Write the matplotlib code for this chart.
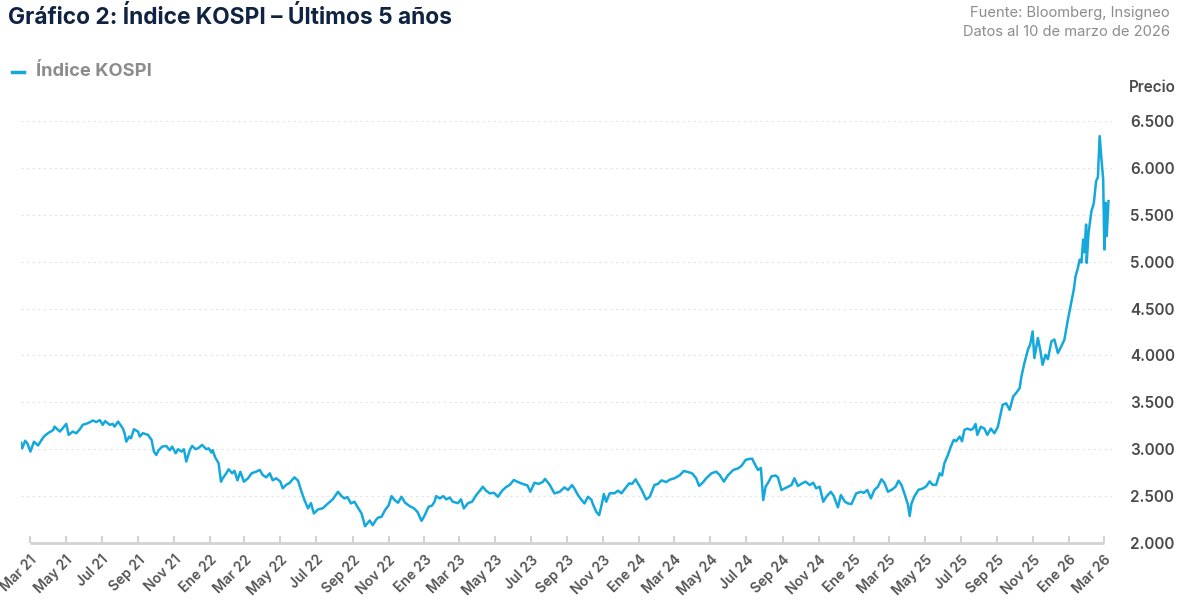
import pandas as pd
import matplotlib.pyplot as plt
from matplotlib.lines import Line2D
from matplotlib.ticker import FuncFormatter

plt.rcParams['font.family'] = ['Inter', 'DejaVu Sans']

# Serie (fecha, nivel del indice)
fechas = [
    '2021-02-14', '2021-02-16', '2021-02-21', '2021-02-25', '2021-03-02', '2021-03-08', '2021-03-15', '2021-03-21',
    '2021-03-26', '2021-04-01', '2021-04-10', '2021-04-12', '2021-04-21', '2021-04-26', '2021-05-02', '2021-05-06',
    '2021-05-13', '2021-05-19', '2021-05-25', '2021-05-30', '2021-06-08', '2021-06-16', '2021-06-22', '2021-06-28',
    '2021-07-03', '2021-07-07', '2021-07-15', '2021-07-20', '2021-07-23', '2021-07-29', '2021-08-06', '2021-08-09',
    '2021-08-12', '2021-08-17', '2021-08-20', '2021-08-25', '2021-09-01', '2021-09-04', '2021-09-09', '2021-09-18',
    '2021-09-24', '2021-09-28', '2021-10-02', '2021-10-06', '2021-10-12', '2021-10-19', '2021-10-25', '2021-10-29',
    '2021-11-04', '2021-11-08', '2021-11-14', '2021-11-18', '2021-11-22', '2021-11-28', '2021-12-02', '2021-12-08',
    '2021-12-12', '2021-12-19', '2021-12-26', '2021-12-30', '2022-01-04', '2022-01-06', '2022-01-10', '2022-01-16',
    '2022-01-20', '2022-01-23', '2022-01-29', '2022-02-02', '2022-02-08', '2022-02-12', '2022-02-17', '2022-02-22',
    '2022-02-28', '2022-03-07', '2022-03-13', '2022-03-21', '2022-03-27', '2022-04-01', '2022-04-07', '2022-04-13',
    '2022-04-18', '2022-04-24', '2022-05-01', '2022-05-05', '2022-05-11', '2022-05-17', '2022-05-22', '2022-05-25',
    '2022-05-31', '2022-06-06', '2022-06-11', '2022-06-17', '2022-06-22', '2022-06-27', '2022-07-04', '2022-07-12',
    '2022-07-21', '2022-07-29', '2022-08-07', '2022-08-13', '2022-08-18', '2022-08-23', '2022-08-29', '2022-09-04',
    '2022-09-09', '2022-09-16', '2022-09-22', '2022-09-30', '2022-10-05', '2022-10-11', '2022-10-14', '2022-10-20',
    '2022-10-26', '2022-11-01', '2022-11-06', '2022-11-11', '2022-11-17', '2022-11-23', '2022-11-29', '2022-12-07',
    '2022-12-14', '2022-12-20', '2022-12-27', '2023-01-01', '2023-01-08', '2023-01-14', '2023-01-18', '2023-01-21',
    '2023-01-27', '2023-02-02', '2023-02-07', '2023-02-13', '2023-02-18', '2023-02-27', '2023-03-04', '2023-03-09',
    '2023-03-16', '2023-03-23', '2023-03-30', '2023-04-07', '2023-04-10', '2023-04-16', '2023-04-22', '2023-04-29',
    '2023-05-06', '2023-05-13', '2023-05-19', '2023-05-26', '2023-06-02', '2023-06-09', '2023-06-17', '2023-06-25',
    '2023-06-30', '2023-07-07', '2023-07-14', '2023-07-21', '2023-07-25', '2023-08-02', '2023-08-10', '2023-08-19',
    '2023-08-27', '2023-09-02', '2023-09-09', '2023-09-13', '2023-09-19', '2023-09-25', '2023-09-30', '2023-10-06',
    '2023-10-12', '2023-10-14', '2023-10-20', '2023-10-25', '2023-10-29', '2023-11-02', '2023-11-06', '2023-11-12',
    '2023-11-20', '2023-11-26', '2023-12-02', '2023-12-07', '2023-12-15', '2023-12-20', '2023-12-26', '2023-12-30',
    '2024-01-05', '2024-01-13', '2024-01-19', '2024-01-27', '2024-02-02', '2024-02-08', '2024-02-16', '2024-02-22',
    '2024-03-01', '2024-03-10', '2024-03-17', '2024-03-24', '2024-03-31', '2024-04-07', '2024-04-12', '2024-04-19',
    '2024-04-24', '2024-05-03', '2024-05-11', '2024-05-17', '2024-05-24', '2024-05-31', '2024-06-09', '2024-06-17',
    '2024-06-23', '2024-06-30', '2024-07-04', '2024-07-11', '2024-07-15', '2024-07-21', '2024-07-26', '2024-07-30',
    '2024-08-03', '2024-08-08', '2024-08-13', '2024-08-20', '2024-08-24', '2024-08-30', '2024-09-07', '2024-09-16',
    '2024-09-21', '2024-09-27', '2024-10-04', '2024-10-10', '2024-10-17', '2024-10-23', '2024-10-28', '2024-11-03',
    '2024-11-09', '2024-11-15', '2024-11-22', '2024-11-27', '2024-12-04', '2024-12-09', '2024-12-16', '2024-12-21',
    '2024-12-27', '2025-01-04', '2025-01-12', '2025-01-17', '2025-01-23', '2025-01-29', '2025-02-04', '2025-02-10',
    '2025-02-16', '2025-02-21', '2025-02-27', '2025-03-06', '2025-03-12', '2025-03-17', '2025-03-22', '2025-03-27',
    '2025-04-02', '2025-04-05', '2025-04-08', '2025-04-13', '2025-04-20', '2025-04-27', '2025-05-03', '2025-05-09',
    '2025-05-14', '2025-05-20', '2025-05-26', '2025-05-30', '2025-06-03', '2025-06-09', '2025-06-14', '2025-06-19',
    '2025-06-23', '2025-06-29', '2025-07-03', '2025-07-07', '2025-07-12', '2025-07-18', '2025-07-22', '2025-07-26',
    '2025-07-29', '2025-08-04', '2025-08-10', '2025-08-15', '2025-08-21', '2025-08-27', '2025-09-02', '2025-09-07',
    '2025-09-10', '2025-09-16', '2025-09-22', '2025-09-28', '2025-10-03', '2025-10-09', '2025-10-12', '2025-10-17',
    '2025-10-23', '2025-10-27', '2025-10-31', '2025-11-03', '2025-11-09', '2025-11-13', '2025-11-17', '2025-11-22',
    '2025-11-26', '2025-12-02', '2025-12-07', '2025-12-13', '2025-12-19', '2025-12-24', '2025-12-30', '2026-01-05',
    '2026-01-09', '2026-01-12', '2026-01-16', '2026-01-19', '2026-01-22', '2026-01-25', '2026-01-27', '2026-01-30',
    '2026-01-31', '2026-02-03', '2026-02-08', '2026-02-12', '2026-02-16', '2026-02-19', '2026-02-22', '2026-02-25',
    '2026-02-28', '2026-03-02', '2026-03-04', '2026-03-06', '2026-03-09',
]
kospi = [
    3070, 3010, 3090, 3060, 2975, 3080, 3040, 3100,
    3142, 3171, 3206, 3241, 3188, 3224, 3270, 3153,
    3188, 3170, 3213, 3260, 3278, 3306, 3290, 3310,
    3260, 3300, 3260, 3270, 3241, 3295, 3224, 3171,
    3081, 3135, 3117, 3213, 3188, 3135, 3171, 3153,
    3100, 2975, 2939, 2990, 3028, 3035, 2990, 3028,
    2957, 3000, 2975, 3000, 2868, 2990, 3035, 3000,
    3010, 3046, 3000, 3010, 2964, 2990, 2915, 2850,
    2654, 2690, 2743, 2786, 2743, 2770, 2668, 2760,
    2654, 2690, 2743, 2761, 2779, 2725, 2700, 2743,
    2668, 2690, 2654, 2583, 2620, 2643, 2680, 2700,
    2665, 2546, 2457, 2369, 2425, 2315, 2358, 2370,
    2422, 2465, 2546, 2500, 2475, 2490, 2422, 2440,
    2386, 2315, 2179, 2240, 2190, 2250, 2270, 2279,
    2351, 2400, 2500, 2460, 2429, 2493, 2430, 2393,
    2370, 2333, 2236, 2290, 2386, 2400, 2440, 2500,
    2475, 2500, 2465, 2485, 2440, 2425, 2465, 2369,
    2425, 2440, 2511, 2572, 2600, 2557, 2529, 2536,
    2493, 2557, 2593, 2620, 2672, 2650, 2630, 2615,
    2547, 2643, 2630, 2650, 2683, 2620, 2529, 2546,
    2593, 2565, 2618, 2580, 2511, 2460, 2422, 2493,
    2460, 2420, 2333, 2297, 2400, 2522, 2440, 2530,
    2530, 2558, 2530, 2572, 2636, 2630, 2679, 2636,
    2570, 2465, 2493, 2618, 2630, 2668, 2650, 2675,
    2690, 2722, 2768, 2757, 2743, 2690, 2608, 2650,
    2690, 2743, 2761, 2725, 2654, 2722, 2779, 2795,
    2822, 2886, 2893, 2900, 2850, 2779, 2800, 2458,
    2600, 2650, 2711, 2720, 2700, 2565, 2590, 2618,
    2690, 2608, 2636, 2654, 2618, 2643, 2583, 2600,
    2440, 2500, 2546, 2500, 2380, 2511, 2440, 2422,
    2415, 2529, 2546, 2535, 2565, 2476, 2565, 2600,
    2679, 2643, 2546, 2570, 2600, 2664, 2620, 2529,
    2410, 2287, 2420, 2497, 2568, 2580, 2604, 2657,
    2620, 2620, 2743, 2720, 2850, 2939, 3028, 3100,
    3085, 3135, 3085, 3206, 3220, 3206, 3220, 3270,
    3153, 3240, 3220, 3153, 3220, 3170, 3241, 3385,
    3473, 3490, 3420, 3562, 3600, 3651, 3775, 3918,
    4060, 4120, 4256, 3972, 4185, 4060, 3900, 4007,
    3960, 4149, 4170, 4025, 4100, 4167, 4381, 4576,
    4700, 4843, 4933, 5022, 4990, 5236, 5100, 5396,
    4987, 5300, 5538, 5620, 5859, 5900, 6339, 6100,
    5878, 5130, 5628, 5272, 5646,
]

yticks = [2000, 2500, 3000, 3500, 4000, 4500, 5000, 5500, 6000, 6500]
meses = {1: 'Ene', 3: 'Mar', 5: 'May', 7: 'Jul', 9: 'Sep', 11: 'Nov'}
tick_fechas = pd.date_range('2021-03-01', '2026-03-01', freq='2MS')
tick_labels = [f"{meses[d.month]} {d.strftime('%y')}" for d in tick_fechas]

azul = '#14a8dc'
gris = '#8c8c8c'
gris_osc = '#4a4a4a'

fig = plt.figure(figsize=(11.78, 6.05), dpi=100)
ax = fig.add_axes([21 / 1178, 1 - 543 / 605, 1091 / 1178, 422 / 605])

ax.plot(pd.to_datetime(fechas), kospi, color=azul, lw=1.8, solid_joinstyle='round')

ax.set_ylim(2000, 6500)
ax.set_xlim(pd.Timestamp('2021-02-14'), pd.Timestamp('2026-03-15'))

for s in ax.spines.values():
    s.set_visible(False)

ax.set_yticks(yticks)
ax.yaxis.tick_right()
ax.yaxis.set_major_formatter(FuncFormatter(lambda v, p: f'{int(v):,}'.replace(',', '.')))
ax.tick_params(axis='y', length=0, pad=13, labelsize=11, labelcolor=gris_osc)
for lbl in ax.get_yticklabels():
    lbl.set_fontweight('semibold')

ax.grid(axis='y', linestyle=(0, (2, 3)), color='#e4e4e4', lw=0.8)
ax.set_axisbelow(True)

ax.set_xticks(tick_fechas)
ax.set_xticklabels(tick_labels, rotation=45, ha='right', rotation_mode='anchor')
ax.tick_params(axis='x', direction='in', length=5, width=1.5, color='#d2d2d2',
               pad=7, labelsize=10, labelcolor='#555555')
for lbl in ax.get_xticklabels():
    lbl.set_fontweight('semibold')
ax.hlines(2000, tick_fechas[0], tick_fechas[-1], color='#d2d2d2', lw=2, clip_on=False, zorder=1)

fig.text(8 / 1178, 1 - 17 / 605, 'Gráfico 2: Índice KOSPI – Últimos 5 años',
         fontsize=16.4, fontweight='bold', color='#0f2342', va='center')
fig.text(1170 / 1178, 1 - 13 / 605, 'Fuente: Bloomberg, Insigneo',
         fontsize=10.6, color=gris, ha='right', va='center')
fig.text(1170 / 1178, 1 - 32 / 605, 'Datos al 10 de marzo de 2026',
         fontsize=10.6, color=gris, ha='right', va='center')

fig.add_artist(Line2D([12 / 1178, 24 / 1178], [1 - 72 / 605] * 2, transform=fig.transFigure,
                      color=azul, lw=2.5))
fig.text(36 / 1178, 1 - 72 / 605, 'Índice KOSPI', fontsize=13.2, fontweight='bold',
         color=gris, va='center')

fig.text(1129 / 1178, 1 - 88 / 605, 'Precio', fontsize=11, fontweight='semibold',
         color=gris_osc, va='center')

fig.savefig('out.png', dpi=100)
